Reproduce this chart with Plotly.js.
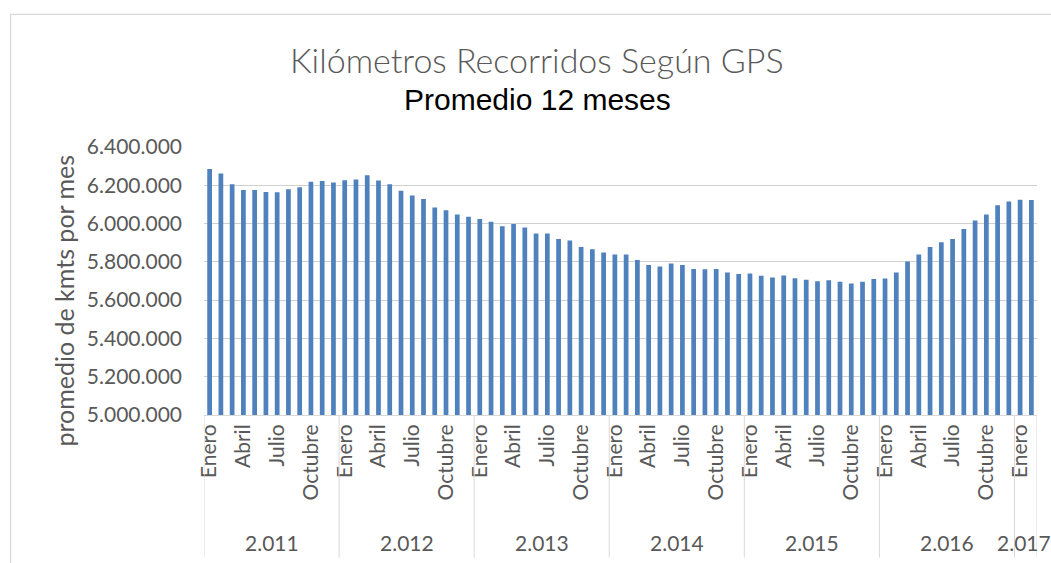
<!DOCTYPE html>
<html>
<head>
<meta charset="utf-8">
<script src="https://cdn.plot.ly/plotly-3.0.1.min.js"></script>
<style>html,body{margin:0;padding:0;background:#fff;}#chart{width:1051px;height:563px;}</style>
</head>
<body>
<div id="chart"></div>
<script>
const years = ["2.011","2.012","2.013","2.014","2.015","2.016","2.017"];
const monthsPerYear = [12,12,12,12,12,12,2];
const monthNames = ["Enero","Febrero","Marzo","Abril","Mayo","Junio","Julio","Agosto","Septiembre","Octubre","Noviembre","Diciembre"];
const labeledMonths = ["Enero","Abril","Julio","Octubre"];
const values2011 = [6285000,6261000,6205000,6176000,6176000,6165000,6164000,6179000,6190000,6219000,6223000,6214000];
const values2012 = [6226000,6230000,6252000,6225000,6205000,6172000,6146000,6129000,6084000,6070000,6047000,6035000];
const values2013 = [6024000,6009000,5986000,5998000,5979000,5948000,5948000,5920000,5912000,5878000,5866000,5849000];
const values2014 = [5839000,5839000,5810000,5784000,5776000,5792000,5783000,5763000,5762000,5763000,5745000,5737000];
const values2015 = [5739000,5727000,5718000,5729000,5715000,5706000,5699000,5704000,5696000,5687000,5696000,5710000];
const values2016 = [5713000,5745000,5802000,5839000,5877000,5903000,5920000,5971000,6016000,6047000,6096000,6115000];
const values2017 = [6125000,6123000];
const yTickVals = [5000000,5200000,5400000,5600000,5800000,6000000,6200000,6400000];

const yearValues = [values2011,values2012,values2013,values2014,values2015,values2016,values2017];
const x = [], y = [], monthLabel = [];
yearValues.forEach((arr, yi) => {
  arr.forEach((v, mi) => { x.push(x.length); y.push(v); monthLabel.push(monthNames[mi]); });
});
const tickvals = [], ticktext = [];
monthLabel.forEach((m, i) => { if (labeledMonths.includes(m)) { tickvals.push(i); ticktext.push(m); } });

const font = "Lato, 'Open Sans', sans-serif";
const grey = "#595959";
const annotations = [];
const shapes = [];
let start = 0;
const boundaries = [-0.5];
years.forEach((yr, i) => {
  const n = monthsPerYear[i];
  const center = start + (n - 1) / 2;
  annotations.push({xref:'x', yref:'paper', x:center, y:-0.476, text:yr, showarrow:false,
    xanchor:'center', yanchor:'middle', xshift:(i === years.length - 1 ? -2 : 0),
    font:{family:font, size:21, color:grey}});
  start += n;
  boundaries.push(start - 0.5);
});
boundaries.forEach(b => {
  shapes.push({type:'line', xref:'x', yref:'paper', x0:b, x1:b, y0:0, y1:-0.532,
    line:{color:'#d9d9d9', width:1}});
});
// outer chart border
shapes.push({type:'rect', xref:'paper', yref:'paper', x0:-0.2322, x1:1.2, y0:-0.7, y1:1.4951,
  line:{color:'#d9d9d9', width:1.3}, fillcolor:'rgba(0,0,0,0)'});

annotations.push({xref:'paper', yref:'paper', x:0.4003, y:1.325, xanchor:'center', yanchor:'middle',
  text:'Kilómetros Recorridos Según GPS', showarrow:false, font:{family:font, size:34, weight:300, color:grey}});
annotations.push({xref:'paper', yref:'paper', x:0.4003, y:1.178, xanchor:'center', yanchor:'middle',
  text:'Promedio 12 meses', showarrow:false, font:{family:"'Liberation Sans', Arial, sans-serif", size:30, color:'#000'}});
annotations.push({xref:'paper', yref:'paper', x:-0.168, y:0.427, xanchor:'center', yanchor:'middle', textangle:-90,
  text:'promedio de kmts por mes', showarrow:false, font:{family:font, size:25, color:grey}});

const trace = {type:'bar', x:x, y:y, marker:{color:'#4F81BD'}, hoverinfo:'y'};
const layout = {
  width:1051, height:563,
  margin:{l:203.5, r:14.3, t:146.7, b:148.3, pad:0},
  paper_bgcolor:'#fff', plot_bgcolor:'#fff',
  separators:',.',
  bargap:0.58,
  showlegend:false,
  xaxis:{range:[-0.5, x.length - 0.5], tickmode:'array', tickvals:tickvals, ticktext:ticktext,
    tickangle:-90, showgrid:false, zeroline:false, showline:true, linecolor:'#d9d9d9', linewidth:1,
    ticks:'', tickfont:{family:font, size:21, color:grey}, fixedrange:true},
  yaxis:{range:[5000000,6400000], tickmode:'array', tickvals:yTickVals, tickformat:',.0f',
    showgrid:true, gridcolor:'#d0d0d0', gridwidth:1, zeroline:false, showline:false, ticks:'',
    ticklabelstandoff:21, tickfont:{family:font, size:21, color:grey}, fixedrange:true},
  annotations:annotations,
  shapes:shapes
};
Plotly.newPlot('chart', [trace], layout, {displayModeBar:false, staticPlot:true});
</script>
</body>
</html>
